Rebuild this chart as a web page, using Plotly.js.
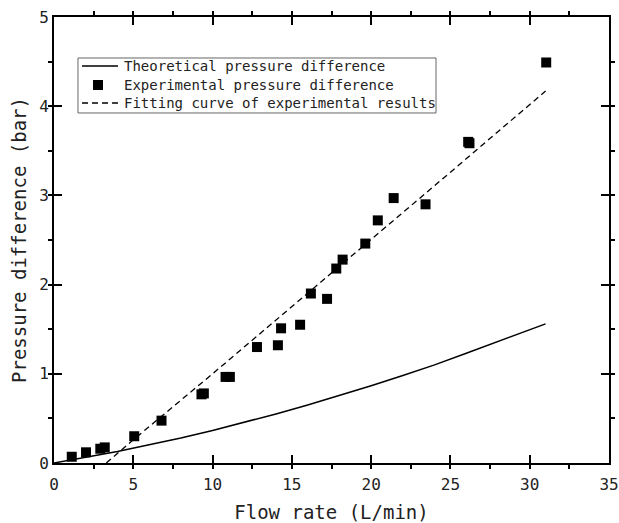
<!DOCTYPE html>
<html>
<head>
<meta charset="utf-8">
<script src="https://cdn.plot.ly/plotly-3.0.1.min.js"></script>
<style>html,body{margin:0;padding:0;background:#fff;}#chart{width:619px;height:523px;}</style>
</head>
<body>
<div id="chart"></div>
<script>
// Theoretical pressure difference
const theoFlow = [0, 2, 4, 6, 8, 10, 12, 14, 16, 18, 20, 22, 24, 26, 28, 31];
const theoDp   = [0, 0.062, 0.13, 0.205, 0.28, 0.365, 0.455, 0.55, 0.65, 0.755, 0.865, 0.98, 1.10, 1.23, 1.36, 1.56];

// Experimental pressure difference
const expFlow = [1.12, 2.02, 2.92, 3.2, 5.06, 6.78, 9.3, 9.45, 10.82, 11.09, 12.8, 14.12, 14.32, 15.52, 16.2, 17.22, 17.8, 18.2, 19.63, 20.42, 21.42, 23.43, 26.12, 26.2, 31.04];
const expDp   = [0.07, 0.12, 0.16, 0.175, 0.30, 0.475, 0.77, 0.78, 0.965, 0.965, 1.30, 1.32, 1.51, 1.55, 1.90, 1.84, 2.18, 2.28, 2.46, 2.72, 2.97, 2.90, 3.60, 3.585, 4.49];

// Fitting curve of experimental results
const fitFlow = [3.3, 5, 10, 15, 20, 25, 31];
const fitDp   = [0, 0.26, 1.0, 1.75, 2.5, 3.26, 4.17];

// Axis ticks
const xTicks = [0, 5, 10, 15, 20, 25, 30, 35];
const yTicks = [0, 1, 2, 3, 4, 5];

// Legend entries
const legendNames = ['Theoretical pressure difference', 'Experimental pressure difference', 'Fitting curve of experimental results'];

const FONT = 'DejaVu Sans Mono, monospace';
const TXT = '#222';

const traces = [
  {x: theoFlow, y: theoDp, mode: 'lines', name: legendNames[0],
   line: {color: '#000', width: 1.5}},
  {x: expFlow, y: expDp, mode: 'markers', name: legendNames[1],
   marker: {symbol: 'square', size: 10, color: '#000'}},
  {x: fitFlow, y: fitDp, mode: 'lines', name: legendNames[2],
   line: {color: '#000', width: 1.3, dash: '6px,4px'}}
];

const axisCommon = {
  showgrid: false, zeroline: false, showline: true, linecolor: '#000', linewidth: 2,
  mirror: 'ticks', ticks: 'inside', ticklen: 8, tickwidth: 2, tickcolor: '#000',
  tickfont: {family: FONT, size: 16, color: TXT}
};

// Legend geometry (paper coordinates of the plot area)
const legBox = {x0: 0.0432, x1: 0.6883, y0: 0.7848, y1: 0.9081};
const rowY = [0.8901, 0.8475, 0.8072];
const symX0 = 0.0505, symX1 = 0.1153, symXc = 0.0793, textX = 0.1225;
const sqHalfX = 0.009, sqHalfY = 0.0112;

const shapes = [
  {type: 'rect', xref: 'paper', yref: 'paper', x0: legBox.x0, x1: legBox.x1, y0: legBox.y0, y1: legBox.y1,
   line: {color: '#666', width: 1}, fillcolor: 'rgba(255,255,255,0)'},
  {type: 'line', xref: 'paper', yref: 'paper', x0: symX0, x1: symX1, y0: rowY[0], y1: rowY[0],
   line: {color: '#000', width: 1.5}},
  {type: 'rect', xref: 'paper', yref: 'paper', x0: symXc - sqHalfX, x1: symXc + sqHalfX,
   y0: rowY[1] - sqHalfY, y1: rowY[1] + sqHalfY, line: {width: 0}, fillcolor: '#000'},
  {type: 'line', xref: 'paper', yref: 'paper', x0: symX0, x1: symX1, y0: rowY[2], y1: rowY[2],
   line: {color: '#000', width: 1.3, dash: '6px,4px'}}
];

const annotations = legendNames.map((t, i) => ({
  xref: 'paper', yref: 'paper', x: textX, y: rowY[i], xanchor: 'left', yanchor: 'middle',
  text: t, showarrow: false, font: {family: FONT, size: 14, color: TXT}
}));

const layout = {
  width: 619, height: 523,
  margin: {l: 54, r: 10, t: 17, b: 60},
  paper_bgcolor: '#fff', plot_bgcolor: '#fff',
  showlegend: false,
  shapes: shapes,
  annotations: annotations,
  xaxis: Object.assign({}, axisCommon, {
    range: [0, 35], tickvals: xTicks, ticktext: xTicks.map(String), ticklabelstandoff: 6,
    minor: {dtick: 2.5, ticks: 'outside', ticklen: 4, tickwidth: 2, tickcolor: '#000'},
    title: {text: 'Flow rate (L/min)', font: {family: FONT, size: 19, color: TXT}, standoff: 12}
  }),
  yaxis: Object.assign({}, axisCommon, {
    range: [0, 5], tickvals: yTicks, ticktext: yTicks.map(String),
    minor: {dtick: 0.5, ticks: 'outside', ticklen: 4, tickwidth: 2, tickcolor: '#000'},
    title: {text: 'Pressure difference (bar)', font: {family: FONT, size: 19, color: TXT}, standoff: 8}
  })
};

Plotly.newPlot('chart', traces, layout, {displayModeBar: false, staticPlot: true});
</script>
</body>
</html>
